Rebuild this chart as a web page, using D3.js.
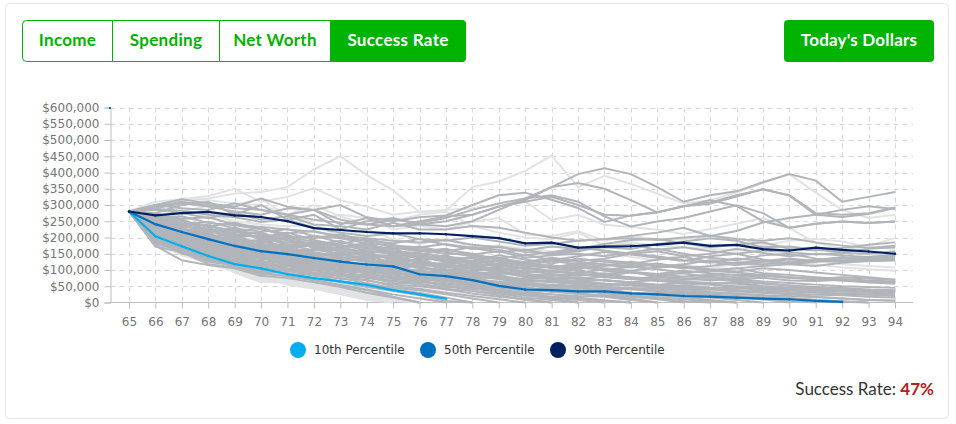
<!DOCTYPE html>
<html>
<head>
<meta charset="utf-8">
<script src="https://cdn.jsdelivr.net/npm/d3@7"></script>
<style>
html, body { margin: 0; padding: 0; background: #fff; }
svg { display: block; }
</style>
</head>
<body>
<div id="chart"></div>
<script>
// all values in $ thousands, first value is age 65
var ages = d3.range(65, 95);
var yTicks = [0, 50, 100, 150, 200, 250, 300, 350, 400, 450, 500, 550, 600];
var tabs = ["Income", "Spending", "Net Worth", "Success Rate"];
var percentileNames = ["10th Percentile", "50th Percentile", "90th Percentile"];

var p10 = [280,204,173,143,118,105,87,75,65,54,38,25,12];
var p50 = [280,241,217,195,174,158,149,137,126,117,111,87,81,69,51,40,38,34,34,28,25,20,18,15,12,10,5,2];
var p90 = [280,268,275,279,268,263,250,229,223,217,213,213,210,204,198,182,184,169,172,173,178,184,174,177,164,160,169,162,157,150];

// simulation paths that stay high
var upperPaths = [
  [280,295,310,300,290,285,270,255,245,240,235,240,250,270,295,315,355,395,413,395,355,310,330,342,370,395,375,310,325,340],
  [280,300,318,305,295,320,295,285,300,262,250,262,268,300,330,338,316,291,248,268,278,295,315,297,250,230,242,249,245,249],
  [280,300,290,285,305,285,270,285,255,240,255,245,260,285,305,320,355,368,350,315,277,297,308,330,348,330,275,270,275,292],
  [280,290,305,295,280,270,290,285,240,260,235,250,265,270,295,310,325,300,270,267,278,296,304,326,349,329,270,263,272,291],
  [280,275,300,310,270,300,255,270,225,250,260,240,235,250,285,320,330,310,265,234,249,260,280,299,275,230,242,249,245,249],
  [280,285,275,260,275,255,265,240,235,225,245,225,225,235,230,215,200,190,195,205,215,230,205,220,246,260,270,285,296,288]
];

// paths in the middle of the band
var middlePaths = [
  [280,288,282,270,262,248,255,230,215,205,212,195,190,200,188,175,180,190,195,198,192,200,205,195,190,198,185,175,168,175],
  [280,270,258,262,240,232,225,218,205,198,190,185,192,178,170,160,172,165,180,192,195,182,170,178,185,165,160,168,178,185],
  [280,262,265,245,238,225,212,220,200,190,182,195,178,165,172,155,150,162,170,165,180,188,198,190,170,172,162,155,165,170],
  [280,258,240,248,228,218,225,205,198,182,175,170,180,168,155,162,148,158,172,178,162,170,158,150,160,155,148,152,150,158],
  [280,275,250,235,245,225,205,198,210,188,170,165,158,170,162,145,155,168,160,150,158,142,150,165,152,142,150,145,140,148],
  [280,252,245,225,215,232,200,188,180,195,178,160,150,148,158,138,145,150,142,155,165,150,138,130,145,150,135,128,138,142],
  [280,268,232,228,210,200,215,192,175,168,162,172,155,142,135,148,130,142,155,148,138,128,142,150,132,120,130,140,132,135],
  [280,245,238,215,225,195,185,178,190,165,155,148,162,150,130,125,138,128,135,150,142,130,122,135,128,118,112,122,128,130],
  [280,255,225,220,200,208,180,172,165,178,150,142,138,128,145,132,120,135,125,118,132,140,125,115,125,132,128,126,128,130],
  [280,240,228,205,198,185,195,170,158,150,165,138,130,140,125,115,128,118,130,122,110,118,130,120,118,125,130,128,132,136],
  [280,248,218,210,188,192,170,180,155,145,140,150,128,120,132,118,108,120,112,125,115,105,112,122,128,135,128,135,138,142],
  [280,235,222,198,195,175,178,160,168,148,135,128,140,122,110,120,112,102,115,108,118,110,100,105,112,118,125,130,128,132],
  [280,242,212,202,180,182,165,155,142,155,130,125,118,128,115,102,110,115,105,98,108,112,102,95,105,100,92,85,78,70],
  [280,230,220,192,185,168,172,150,148,135,142,120,115,108,120,105,98,108,100,110,102,92,98,105,90,85,78,72,68,65],
  [280,238,205,200,172,178,158,145,152,130,125,132,110,115,100,108,95,90,102,95,88,98,90,85,85,78,72,68,62,60],
  [280,258,252,232,222,210,195,205,185,172,168,158,165,145,138,122,130,125,118,112,120,108,98,92,85,78,72,68,62,58],
  [280,250,235,240,208,215,190,182,172,182,158,152,140,135,118,125,105,112,98,92,85,90,78,72,65,60,55,50,48,45],
  [280,265,228,212,232,190,202,175,178,160,148,145,132,125,128,110,115,95,88,95,78,72,80,68,60,52,48,45,40,38],
  [280,244,255,222,205,205,175,185,162,158,152,135,145,118,112,105,92,100,85,78,72,65,60,58,50,44,40,35,30,28],
  [280,272,242,238,218,198,208,165,170,152,138,140,125,112,102,98,88,82,90,75,68,58,55,48,42,38,32,26,24,20],
  [280,236,215,226,192,188,168,175,145,140,145,125,108,105,98,85,78,72,68,62,55,48,42,38,30,25,18,12,8,6],
  [280,260,208,204,212,170,160,162,150,128,118,130,112,95,88,90,70,62,58,52,45,38,32,28,22,14,8,2,0],
  [280,248,232,190,182,176,148,152,138,125,132,108,100,90,78,70,65,55,48,44,36,30,24,16,10,0],
  [280,234,202,218,170,162,172,140,128,132,108,115,85,80,72,62,52,48,40,30,24,16,8,0],
  [280,226,222,180,198,155,140,148,122,115,112,95,92,72,60,58,42,38,28,22,12,4,0],
  [280,252,192,208,178,150,152,130,132,105,98,102,78,68,55,45,38,28,20,12,0],
  [280,246,212,168,186,146,134,142,110,110,88,90,70,58,48,35,25,15,6,0],
  [280,240,198,184,148,168,128,120,118,92,92,78,60,48,35,22,12,0],
  [280,230,208,175,158,140,142,115,95,100,80,68,52,36,22,8,0]
];

// paths that run down towards zero
var lowerPaths = [
  [280,225,215,185,178,160,165,142,135,145,120,112,122,102,108,92,98,88,82,92,85,80,85,78,82,75,72,78,74,70],
  [280,232,200,195,165,172,150,138,128,138,115,120,102,98,105,88,82,90,78,72,80,75,68,72,76,68,66,70,65,62],
  [280,222,210,178,175,152,158,135,125,118,128,105,98,108,92,80,85,75,80,72,66,70,72,65,58,52,46,42,38,35],
  [280,228,195,188,160,165,142,148,120,112,120,110,92,88,95,78,72,78,68,62,70,64,58,62,50,46,42,38,35,32],
  [280,218,205,172,168,145,150,128,130,108,105,112,88,95,80,72,75,65,70,60,55,60,55,50,46,42,38,34,32,28],
  [280,225,190,182,155,158,135,140,115,120,100,92,98,82,85,68,62,68,58,55,50,52,46,44,40,38,36,34,32,30],
  [280,215,200,165,162,138,145,122,118,102,110,88,82,90,72,65,68,56,52,58,48,44,42,38,36,32,30,28,25,22],
  [280,222,185,175,150,152,128,132,108,112,95,98,78,75,80,60,55,60,48,45,42,38,40,34,30,28,24,22,18,15],
  [280,212,195,160,155,132,138,115,120,98,102,85,88,70,65,62,48,52,45,40,36,32,30,26,22,20,16,12,8,5],
  [280,218,180,170,145,148,122,125,102,105,90,80,72,78,60,52,50,44,38,42,32,28,25,20,16,12,8,4,0],
  [280,208,190,155,150,125,130,110,112,92,95,78,82,65,58,55,42,46,38,30,28,24,18,14,10,5,0],
  [280,215,175,165,138,142,118,120,98,100,85,72,75,60,62,45,40,36,40,28,22,18,15,8,0],
  [280,205,185,150,145,120,125,105,105,88,78,80,65,55,50,48,32,30,34,22,16,10,4,0],
  [280,212,170,158,132,138,112,112,92,95,72,68,68,52,45,38,34,26,22,18,10,0],
  [280,200,180,145,140,115,118,100,98,80,75,62,58,50,40,30,25,20,18,8,0],
  [280,208,165,152,128,130,105,108,85,85,65,65,52,42,38,28,18,14,6,0],
  [280,195,175,140,135,110,112,92,90,75,68,55,48,45,30,22,16,8,0],
  [280,202,160,148,122,125,100,100,80,78,60,58,42,35,28,15,8,0],
  [280,190,170,135,128,105,105,88,82,68,55,50,40,28,18,10,0],
  [280,198,155,142,118,118,95,92,72,70,50,42,30,20,10,0],
  [280,185,165,130,122,100,98,82,75,60,45,38,25,12,0],
  [280,192,150,138,112,112,88,85,65,55,40,30,15,0],
  [280,180,160,125,115,95,90,75,62,48,35,22,5,0],
  [280,172,155,118,108,88,82,68,55,40,25,12,0],
  [280,175,130,115,105,82,75,62,48,30,15,0],
  [280,195,160,132,110,92,80,70,52,38,18,0]
];

// the paler paths, drawn underneath
var fadedPaths = [
  [280,300,315,320,335,340,355,410,450,392,345,278,282,355,372,405,452,355,390,365,335,305,315,338,368,395,338,285,260,270],
  [280,310,318,328,350,310,325,352,315,295,270,280,285,290,300,311,254,270,239,232,224,211,226,242,260,229,184,165,150,140],
  [280,295,320,315,305,300,270,300,265,240,250,270,280,235,215,200,195,215,175,185,175,170,165,160,175,190,195,188,170,165],
  [280,290,280,298,300,320,265,250,270,260,225,235,225,248,260,210,205,220,190,205,195,195,205,198,180,170,165,160,175,198],
  [280,265,250,272,250,240,235,238,205,225,195,180,195,170,175,165,158,145,155,140,130,148,135,128,118,122,130,118,112,108],
  [280,242,225,200,180,160,170,145,140,125,128,110,118,102,108,95,102,115,108,95,110,118,105,120,112,125,118,108,102,98],
  [280,215,188,150,152,118,125,98,95,75,72,55,55,40,32,20,15,8,0],
  [280,190,165,120,100,75,70,58,50,35,18,0],
  [280,200,160,125,95,68,65,52,42,28,10,0],
  [280,180,170,115,100,82,60,50,38,22,5,0],
  [280,175,150,130,92,62,62,45,35,18,0],
  [280,195,145,122,105,72,68,48,30,12,0],
  [280,205,175,128,98,78,55,42,25,8,0]
];

var svgWidth = 956;
var svgHeight = 424;
var green = "#00b300";
var uiFont = "Lato, 'Open Sans', sans-serif";
var axisFont = "'DejaVu Sans', sans-serif";
var percentileColors = ["#00aeef", "#0070c0", "#002060"];

var svg = d3.select("#chart")
  .append("svg")
  .attr("width", svgWidth)
  .attr("height", svgHeight);

// card
svg.append("rect")
  .attr("x", 5.5).attr("y", 3.5)
  .attr("width", 943).attr("height", 415)
  .attr("rx", 4)
  .attr("fill", "#fff")
  .attr("stroke", "#e6e6e6");

// tab buttons
var tabEdges = [22.5, 112.5, 219.5, 330.5, 465.5];
var tabGroup = svg.append("g");
tabGroup.append("rect")
  .attr("x", 22.5).attr("y", 20.5)
  .attr("width", 443).attr("height", 41)
  .attr("rx", 4)
  .attr("fill", "#fff")
  .attr("stroke", green);
tabGroup.append("path")
  .attr("d", "M330,20 H462 a4,4 0 0 1 4,4 V58 a4,4 0 0 1 -4,4 H330 Z")
  .attr("fill", green);
[1, 2].forEach(function(i) {
  tabGroup.append("line")
    .attr("x1", tabEdges[i]).attr("x2", tabEdges[i])
    .attr("y1", 20).attr("y2", 62)
    .attr("stroke", green);
});
tabs.forEach(function(t, i) {
  tabGroup.append("text")
    .attr("x", (tabEdges[i] + tabEdges[i + 1]) / 2)
    .attr("y", 46)
    .attr("text-anchor", "middle")
    .attr("font-family", uiFont)
    .attr("font-weight", 700)
    .attr("font-size", 17)
    .attr("letter-spacing", 0.3)
    .attr("fill", i == 3 ? "#fff" : green)
    .text(t);
});

svg.append("rect")
  .attr("x", 784).attr("y", 20)
  .attr("width", 150).attr("height", 42)
  .attr("rx", 4)
  .attr("fill", green);
svg.append("text")
  .attr("x", 859).attr("y", 46)
  .attr("text-anchor", "middle")
  .attr("font-family", uiFont)
  .attr("font-weight", 700)
  .attr("font-size", 17)
  .attr("letter-spacing", 0.2)
  .attr("fill", "#fff")
  .text("Today's Dollars");

// scales
var xScale = d3.scalePoint()
  .domain(ages)
  .range([129, 895]);
var yScale = d3.scaleLinear()
  .domain([0, 600])
  .range([302.5, 107.5]);
var plotLeft = 110.5;
var plotRight = 913;

// grid
var gridGroup = svg.append("g")
  .attr("stroke", "#d9d9d9")
  .attr("stroke-dasharray", "5,4");
gridGroup.selectAll(".hgrid")
  .data(yTicks.filter(d => d > 0))
  .enter()
  .append("line")
  .attr("x1", plotLeft).attr("x2", plotRight)
  .attr("y1", d => Math.round(yScale(d)) + 0.5)
  .attr("y2", d => Math.round(yScale(d)) + 0.5);
gridGroup.selectAll(".vgrid")
  .data(ages)
  .enter()
  .append("line")
  .attr("x1", d => Math.round(xScale(d)) + 0.5).attr("x2", d => Math.round(xScale(d)) + 0.5)
  .attr("y1", yScale(600)).attr("y2", yScale(0));

// axes
var leftAxis = d3.axisLeft(yScale)
  .tickValues(yTicks)
  .tickSize(6)
  .tickPadding(5)
  .tickFormat(d => d == 0 ? "$0" : "$" + d + ",000");
var bottomAxis = d3.axisBottom(xScale)
  .tickSize(6)
  .tickPadding(9);

var yAxisGroup = svg.append("g")
  .attr("transform", `translate(${plotLeft}, 0)`)
  .call(leftAxis);
var xAxisGroup = svg.append("g")
  .attr("transform", `translate(0, ${yScale(0)})`)
  .call(bottomAxis);
xAxisGroup.select(".domain").attr("d", `M${plotLeft},0H${plotRight}`);

[yAxisGroup, xAxisGroup].forEach(function(g) {
  g.selectAll("text")
    .attr("font-family", axisFont)
    .attr("font-size", 12)
    .attr("fill", "#757575");
  g.selectAll("line, .domain").attr("stroke", "#bdbdbd");
});

// lines
var lineGen = d3.line()
  .x((d, i) => xScale(ages[i]))
  .y(d => yScale(d));

function drawPaths(paths, color) {
  svg.append("g")
    .selectAll("path")
    .data(paths)
    .enter()
    .append("path")
    .attr("d", lineGen)
    .attr("fill", "none")
    .attr("stroke", color)
    .attr("stroke-width", 2);
}
drawPaths(fadedPaths, "#e1e2e3");
drawPaths(upperPaths.concat(middlePaths, lowerPaths), "#b1b5b9");

[p10, p50, p90].forEach(function(series, i) {
  svg.append("path")
    .datum(series)
    .attr("d", lineGen)
    .attr("fill", "none")
    .attr("stroke", percentileColors[i])
    .attr("stroke-width", 2.2);
  svg.append("g")
    .selectAll("circle")
    .data(series)
    .enter()
    .append("circle")
    .attr("cx", (d, j) => xScale(ages[j]))
    .attr("cy", d => yScale(d))
    .attr("r", 1.2)
    .attr("fill", percentileColors[i]);
});

// the stray marker at the top of the y axis
svg.append("rect")
  .attr("x", plotLeft - 1.5).attr("y", yScale(600) - 0.5)
  .attr("width", 2).attr("height", 2)
  .attr("fill", percentileColors[1]);

// legend
var legendX = [298, 428, 558];
percentileNames.forEach(function(name, i) {
  svg.append("circle")
    .attr("cx", legendX[i]).attr("cy", 350)
    .attr("r", 8)
    .attr("fill", percentileColors[i]);
  svg.append("text")
    .attr("x", legendX[i] + 16).attr("y", 354)
    .attr("font-family", axisFont)
    .attr("font-size", 12)
    .attr("fill", "#333")
    .text(name);
});

// success rate
var rateText = svg.append("text")
  .attr("x", 934).attr("y", 395)
  .attr("text-anchor", "end")
  .attr("font-family", uiFont)
  .attr("font-size", 17)
  .attr("fill", "#333")
  .text("Success Rate: ");
rateText.append("tspan")
  .attr("font-weight", 700)
  .attr("fill", "#b3201a")
  .text("47%");
</script>
</body>
</html>
